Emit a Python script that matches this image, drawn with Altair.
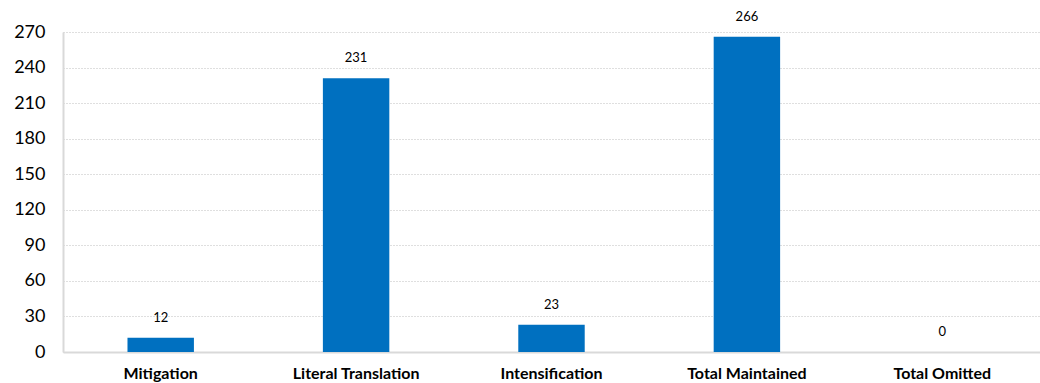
import altair as alt
import pandas as pd

categories = ["Mitigation", "Literal Translation", "Intensification", "Total Maintained", "Total Omitted"]
values = [12, 231, 23, 266, 0]
y_ticks = [0, 30, 60, 90, 120, 150, 180, 210, 240, 270]

df = pd.DataFrame({"category": categories, "value": values})

FONT = "Lato"

x = alt.X("category:N", sort=categories, title=None,
          scale=alt.Scale(paddingInner=0.66, paddingOuter=0.33),
          axis=alt.Axis(labelAngle=0, labelFont=FONT, labelFontSize=16, labelFontWeight="bold",
                        labelColor="#000000", labelPadding=13, ticks=False,
                        domainColor="#d9d9d9", domainWidth=2))
y = alt.Y("value:Q", title=None,
          scale=alt.Scale(domain=[0, 270], nice=False),
          axis=alt.Axis(values=y_ticks, labelFont=FONT, labelFontSize=18, labelColor="#000000",
                        labelPadding=18, ticks=False, domainColor="#d9d9d9", domainWidth=2,
                        labelOverlap=False, labelFlush=False,
                        grid=True, gridColor="#bfbfbf", gridDash=[1, 2], gridWidth=1))

base = alt.Chart(df).encode(x=x, y=y)
bars = base.mark_bar(color="#0070C0")
labels = base.mark_text(font=FONT, fontSize=13, color="#000000", baseline="middle", dy=-20).encode(
    text="value:Q")

chart = (bars + labels).properties(
    width=977, height=320,
    background="white",
    autosize=alt.AutoSizeParams(type="none"),
    padding={"left": 63, "top": 32, "right": 0, "bottom": 31},
).configure_view(stroke=None)

chart.save("out.html", embed_options={"renderer": "svg", "actions": False})
